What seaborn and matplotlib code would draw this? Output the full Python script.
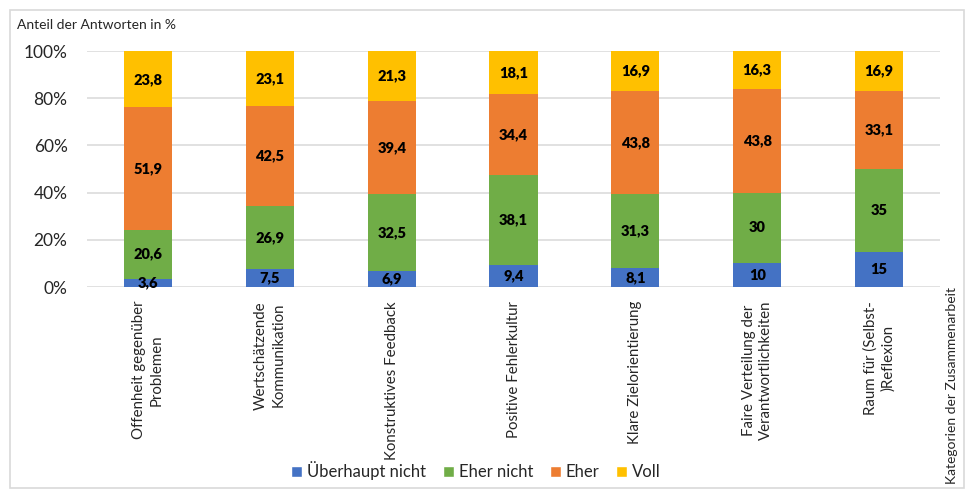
import numpy as np
import pandas as pd
import matplotlib
matplotlib.use('Agg')
import matplotlib.pyplot as plt
import seaborn as sns
from matplotlib.patches import Rectangle, Patch

categories = ['Offenheit gegenüber\nProblemen', 'Wertschätzende\nKommunikation',
              'Konstruktives Feedback', 'Positive Fehlerkultur', 'Klare Zielorientierung',
              'Faire Verteilung der\nVerantwortlichkeiten', 'Raum für (Selbst-\n)Reflexion']
ueberhaupt_nicht = [3.6, 7.5, 6.9, 9.4, 8.1, 10, 15]
eher_nicht = [20.6, 26.9, 32.5, 38.1, 31.3, 30, 35]
eher = [51.9, 42.5, 39.4, 34.4, 43.8, 43.8, 33.1]
voll = [23.8, 23.1, 21.3, 18.1, 16.9, 16.3, 16.9]
series_names = ['Überhaupt nicht', 'Eher nicht', 'Eher', 'Voll']
colors = ['#4472C4', '#70AD47', '#ED7D31', '#FFC000']
yticks = [0, 20, 40, 60, 80, 100]

sns.set_theme(style='white')
plt.rcParams['font.family'] = ['Lato', 'DejaVu Sans']

df = pd.DataFrame({'Kategorie': categories,
                   series_names[0]: ueberhaupt_nicht,
                   series_names[1]: eher_nicht,
                   series_names[2]: eher,
                   series_names[3]: voll})
cum = df[series_names].cumsum(axis=1)

fig = plt.figure(figsize=(9.8, 5.03), dpi=100)
ax = fig.add_axes([87 / 980, 1 - 287 / 503, (940 - 87) / 980, (287 - 51) / 503])

# Gitterlinien
for t in yticks:
    ax.axhline(t, color='#D9D9D9', lw=1.1, zorder=0)

# gestapelte Balken: von oben nach unten übereinander zeichnen
for name, col in reversed(list(zip(series_names, colors))):
    sns.barplot(x=df['Kategorie'], y=cum[name], color=col, width=0.395,
                saturation=1, ax=ax, zorder=2, linewidth=0)

# Datenbeschriftungen
for i in range(len(df)):
    bottom = 0
    for name in series_names:
        v = df.loc[i, name]
        txt = ('%g' % v).replace('.', ',')
        ax.text(i, bottom + v / 2, txt, ha='center', va='center',
                fontsize=10.5, fontweight='heavy', color='black', zorder=3)
        bottom += v

ax.set_xlim(-0.5, len(df) - 0.5)
ax.set_ylim(0, 100)
ax.set_yticks(yticks)
ax.set_yticklabels([f'{t}%' for t in yticks], fontsize=12.5)
ax.set_xlabel('')
ax.set_ylabel('')
ax.set_xticks(range(len(df)))
ax.set_xticklabels(categories, rotation=90, ha='center', va='top',
                   multialignment='center', fontsize=10.8, linespacing=1.3)
ax.tick_params(axis='y', length=0, pad=14)
ax.tick_params(axis='x', length=0, pad=10)
for s in ax.spines.values():
    s.set_visible(False)

fig.text(17 / 980, 1 - 25 / 503, 'Anteil der Antworten in %', fontsize=10,
         ha='left', va='center')
fig.text(952 / 980, 1 - 287 / 503, 'Kategorien der Zusammenarbeit', fontsize=10,
         rotation=90, ha='center', va='top')

handles = [Patch(facecolor=c, label=n) for n, c in zip(series_names, colors)]
fig.legend(handles=handles, loc='center', bbox_to_anchor=(476 / 980, 1 - 471 / 503),
           ncol=4, frameon=False, fontsize=12, handlelength=0.65, handleheight=0.65,
           handletextpad=0.3, columnspacing=1.0)

fig.patches.append(Rectangle((10 / 980, 1 - 488 / 503), 954 / 980, 478 / 503,
                             transform=fig.transFigure, fill=False,
                             edgecolor='#D9D9D9', lw=1.2))

fig.savefig('out.png', dpi=100)
